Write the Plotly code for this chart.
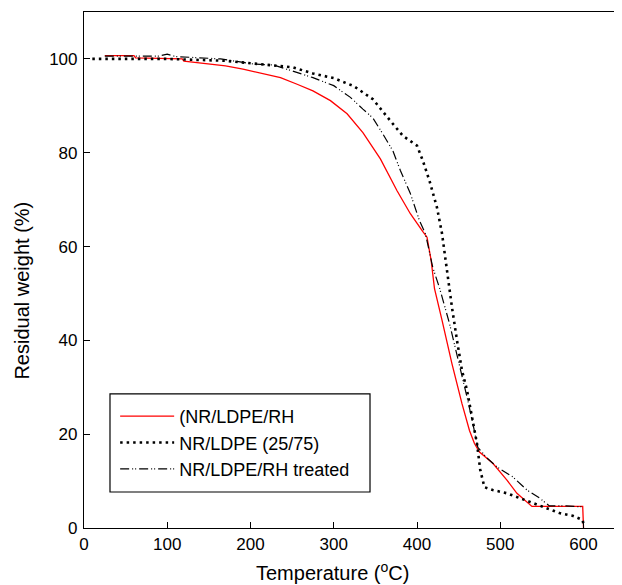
import plotly.graph_objects as go

# NR/LDPE/RH (red, solid)
rh_temp = [25, 60, 62, 118, 120, 150, 170, 191, 214, 236, 256, 275, 296, 316, 335, 356, 376, 392,
           407, 412, 417, 421, 430, 442, 454, 463, 469, 475, 491, 508, 520, 532, 538, 599, 600]
rh_wt = [100.7, 100.7, 100.2, 100.0, 99.5, 98.9, 98.5, 97.8, 96.9, 96.0, 94.6, 93.2, 91.1, 88.3, 84.3, 78.7, 71.9, 67.0,
         63.2, 62.0, 57.0, 51.0, 44.3, 35.0, 26.5, 20.8, 18.0, 16.2, 13.8, 10.2, 7.4, 5.5, 4.6, 4.6, 0.0]

# NR/LDPE (25/75) (black, dotted)
ldpe_temp = [10, 100, 170, 212, 251, 275, 300, 324, 347, 368, 383, 400, 407, 415, 424, 430, 436, 442,
             448, 454, 460, 466, 472, 476, 481, 491, 508, 523, 539, 555, 571, 587, 599, 600]
ldpe_wt = [100.0, 100.0, 99.6, 98.9, 98.2, 96.9, 95.9, 94.2, 91.4, 86.8, 83.6, 81.5, 78.3, 74.0, 68.3, 62.8, 54.3, 47.0,
           40.0, 33.6, 29.4, 23.6, 18.0, 12.3, 8.7, 8.1, 7.4, 6.4, 5.3, 4.3, 3.2, 2.6, 1.7, 0.6]

# NR/LDPE/RH treated (black, dash-dot)
trt_temp = [25, 90, 100, 110, 164, 204, 228, 251, 275, 300, 320, 335, 347, 359, 371, 380, 392, 403,
            410, 419, 427, 439, 451, 461, 467, 473, 483, 496, 515, 532, 547, 559, 579, 600]
trt_wt = [100.6, 100.6, 101.0, 100.5, 100.0, 98.9, 98.7, 97.4, 96.0, 94.3, 91.8, 89.3, 87.4, 84.0, 80.4, 76.2, 71.3, 65.5,
          62.8, 55.5, 51.2, 43.6, 35.0, 27.2, 22.3, 17.2, 15.1, 13.0, 10.9, 8.1, 6.4, 4.7, 4.7, 4.5]

x_ticks = [0, 100, 200, 300, 400, 500, 600]
y_ticks = [0, 20, 40, 60, 80, 100]

font = "Liberation Sans, Arial, sans-serif"

fig = go.Figure()
fig.add_trace(go.Scatter(x=rh_temp, y=rh_wt, mode="lines", name="(NR/LDPE/RH",
                         line=dict(color="red", width=1.3)))
fig.add_trace(go.Scatter(x=ldpe_temp, y=ldpe_wt, mode="lines", name="NR/LDPE (25/75)",
                         line=dict(color="black", width=2.6, dash="2.5px,4px")))
fig.add_trace(go.Scatter(x=trt_temp, y=trt_wt, mode="lines", name="NR/LDPE/RH treated",
                         line=dict(color="black", width=1.2, dash="9px,3px,1px,2px,1px,3px")))

axis_common = dict(showline=True, linecolor="black", linewidth=1.2, mirror=True, automargin=False,
                   ticks="inside", ticklen=6, tickcolor="black", showgrid=False, zeroline=False,
                   tickfont=dict(family=font, size=17, color="black"))

fig.update_xaxes(range=[0, 645], tickvals=x_ticks, **axis_common)
fig.update_yaxes(range=[0, 110], tickvals=y_ticks, ticklabelstandoff=2, **axis_common)

# axis titles
fig.add_annotation(text="Temperature (<sup>o</sup>C)", xref="paper", yref="paper", x=0.462, y=-0.085,
                   xanchor="center", yanchor="middle",
                   showarrow=False, font=dict(family=font, size=20, color="black"))
fig.add_annotation(text="Residual weight (%)", xref="paper", yref="paper", x=-0.1155, y=0.46,
                   xanchor="center", yanchor="middle",
                   textangle=-90, showarrow=False, font=dict(family=font, size=20, color="black"))

# legend frame
fig.add_shape(type="rect", xref="paper", yref="paper", x0=0.0484, x1=0.5326, y0=0.0698, y1=0.26,
              line=dict(color="black", width=1.2), fillcolor="rgba(0,0,0,0)")

# the page body adds an 8px offset, so the figure is sized to sit inside the window
fig.update_layout(
    width=614, height=577,
    margin=dict(l=76, r=1, t=4, b=57),
    plot_bgcolor="white", paper_bgcolor="white",
    showlegend=True,
    legend=dict(x=0.058, y=0.252, xanchor="left", yanchor="top",
                borderwidth=0, bgcolor="rgba(0,0,0,0)",
                itemwidth=54, tracegroupgap=0,
                font=dict(family=font, size=18, color="black")),
)

fig.write_html("out.html")
